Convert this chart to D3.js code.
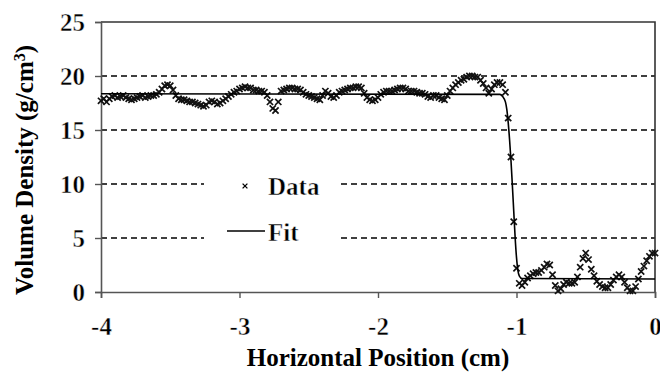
<!DOCTYPE html>
<html><head><meta charset="utf-8">
<script src="https://cdn.jsdelivr.net/npm/d3@7"></script>
<style>body{margin:0;background:#fff}svg{display:block}</style>
</head><body>
<script>
// Data sampled every 0.02 cm from -4 to 0
const xStart = -4, xStep = 0.02;
const densityValues = [
17.7,17.9,17.6,17.9,18.1,18.2,18.0,18.1,18.2,18.0,
17.9,17.8,17.9,18.0,18.1,18.2,18.0,18.1,18.2,18.2,
18.3,18.5,18.8,19.1,19.2,19.1,18.7,18.2,17.9,17.8,
17.8,17.7,17.6,17.6,17.5,17.4,17.3,17.2,17.3,17.6,
17.7,17.6,17.4,17.5,17.7,17.9,18.1,18.3,18.5,18.6,
18.8,18.9,19.0,18.9,18.9,18.7,18.7,18.6,18.6,18.5,
18.2,17.6,17.0,16.8,17.6,18.6,18.7,18.8,18.9,18.9,
18.8,18.8,18.7,18.5,18.3,18.2,18.1,18.0,17.9,17.8,
18.2,18.6,18.4,18.1,18.0,18.2,18.5,18.6,18.7,18.8,
18.9,18.9,19.0,19.0,18.9,18.4,18.0,17.8,17.7,17.8,
18.0,18.3,18.5,18.6,18.6,18.6,18.7,18.8,18.9,18.9,
18.8,18.6,18.6,18.6,18.5,18.4,18.4,18.3,18.1,18.0,
18.2,18.2,18.0,17.9,17.8,18.2,18.6,18.9,19.2,19.4,
19.6,19.7,19.9,20.0,20.0,19.9,19.9,19.6,19.3,18.9,
18.4,18.8,19.2,19.4,19.4,19.2,18.5,16.1,12.5,6.5,
2.2,0.8,0.6,0.9,1.3,1.5,1.7,1.8,1.8,2.0,
2.3,2.6,2.5,1.6,0.6,0.1,0.3,0.7,0.9,0.8,
0.8,0.9,1.4,2.3,3.1,3.6,3.0,2.1,1.5,1.0,
0.7,0.5,0.4,0.4,0.7,1.1,1.4,1.6,1.4,0.9,
0.4,0.1,0.1,0.5,1.2,1.9,2.4,2.9,3.3,3.6,
3.6
];
// Fit curve knots
const fitX = [-4, -1.12, -1.10, -1.08, -1.07, -1.06, -1.05, -1.04, -1.03, -1.02, -1.01, -1.00, -0.99, -0.98, -0.96, 0];
const fitY = [18.35, 18.3, 18.1, 17.6, 16.9, 15.7, 14.1, 12.2, 9.9, 7.5, 5.1, 3.2, 2.0, 1.5, 1.25, 1.2];

const xTicks = [-4, -3, -2, -1, 0];
const yTicks = [0, 5, 10, 15, 20, 25];
const gridValues = [5, 10, 15, 20];
const xTitle = "Horizontal Position (cm)";
const legendLabels = ["Data", "Fit"];

const W = 660, H = 374;
const m = {left: 101, right: 655, top: 22, bottom: 292};
const svg = d3.select("body").append("svg").attr("width", W).attr("height", H);
const x = d3.scaleLinear().domain([-4, 0]).range([m.left, m.right]);
const y = d3.scaleLinear().domain([0, 25]).range([m.bottom, m.top]);
const serif = '"Liberation Serif","Times New Roman",serif';
// regular-weight look: bold serif glyphs slightly thinned by a white outline
function plain(sel, size) {
  sel.style("font-family", serif).attr("font-weight", "bold").attr("font-size", size)
    .attr("fill", "#000").attr("stroke", "#fff").attr("stroke-width", 0.45);
}

// gridlines
svg.append("g").selectAll("line").data(gridValues).join("line")
  .attr("x1", m.left).attr("x2", m.right)
  .attr("y1", d => y(d)).attr("y2", d => y(d))
  .attr("stroke", "#000").attr("stroke-width", 1.6).attr("stroke-dasharray", "6,4");

// frame top/right
svg.append("path").attr("d", `M${m.left},${m.top}H${m.right}V${m.bottom}`)
  .attr("fill", "none").attr("stroke", "#333").attr("stroke-width", 1.6);

// axes
const fmt = d => String(d);
const xAxis = svg.append("g").attr("transform", `translate(0,${m.bottom})`)
  .call(d3.axisBottom(x).tickValues(xTicks).tickSize(6).tickPadding(19).tickFormat(fmt));
const yAxis = svg.append("g").attr("transform", `translate(${m.left},0)`)
  .call(d3.axisLeft(y).tickValues(yTicks).tickSize(6).tickPadding(10).tickFormat(fmt));
[xAxis, yAxis].forEach(g => {
  g.attr("font-family", null);
  g.select(".domain").attr("stroke", "#555").attr("stroke-width", 1.6);
  g.selectAll(".tick line").attr("stroke", "#555").attr("stroke-width", 1.4);
  g.selectAll(".tick text").call(plain, 25);
});

// data markers
const pts = densityValues.map((v, i) => ({x: xStart + i * xStep, v}));
const s = 3.1;
svg.append("g").selectAll("path").data(pts).join("path")
  .attr("d", d => { const cx = x(d.x), cy = y(d.v);
    return `M${cx-s},${cy-s}L${cx+s},${cy+s}M${cx-s},${cy+s}L${cx+s},${cy-s}`; })
  .attr("stroke", "#111").attr("stroke-width", 1.7).attr("fill", "none");

// fit line
const fitData = fitX.map((fx, i) => [fx, fitY[i]]);
svg.append("path").datum(fitData)
  .attr("d", d3.line().x(d => x(d[0])).y(d => y(d[1])).curve(d3.curveMonotoneX))
  .attr("fill", "none").attr("stroke", "#000").attr("stroke-width", 1.6);

// legend
const lg = svg.append("g");
lg.append("rect").attr("x", 204).attr("y", 166).attr("width", 134).attr("height", 82).attr("fill", "#fff");
const lx = 245, ly1 = 186, ly2 = 231, ls = 2.4;
lg.append("path").attr("d", `M${lx-ls},${ly1-ls}L${lx+ls},${ly1+ls}M${lx-ls},${ly1+ls}L${lx+ls},${ly1-ls}`)
  .attr("stroke", "#000").attr("stroke-width", 1.3);
lg.append("text").attr("x", 268).attr("y", 195).text(legendLabels[0]).call(plain, 25);
lg.append("line").attr("x1", 227).attr("x2", 265).attr("y1", ly2).attr("y2", ly2)
  .attr("stroke", "#000").attr("stroke-width", 1.6);
lg.append("text").attr("x", 268).attr("y", 241).text(legendLabels[1]).call(plain, 25);

// axis titles
svg.append("text").attr("x", 378).attr("y", 366).attr("text-anchor", "middle")
  .style("font-family", serif).attr("font-weight", "bold").attr("font-size", 25).text(xTitle);
const yt = svg.append("text").attr("transform", "translate(33,170) rotate(-90)").attr("text-anchor", "middle")
  .style("font-family", serif).attr("font-weight", "bold").attr("font-size", 25);
yt.append("tspan").text("Volume Density (g/cm");
yt.append("tspan").attr("baseline-shift", "super").attr("font-size", 16).text("3");
yt.append("tspan").text(")");
</script>
</body></html>
